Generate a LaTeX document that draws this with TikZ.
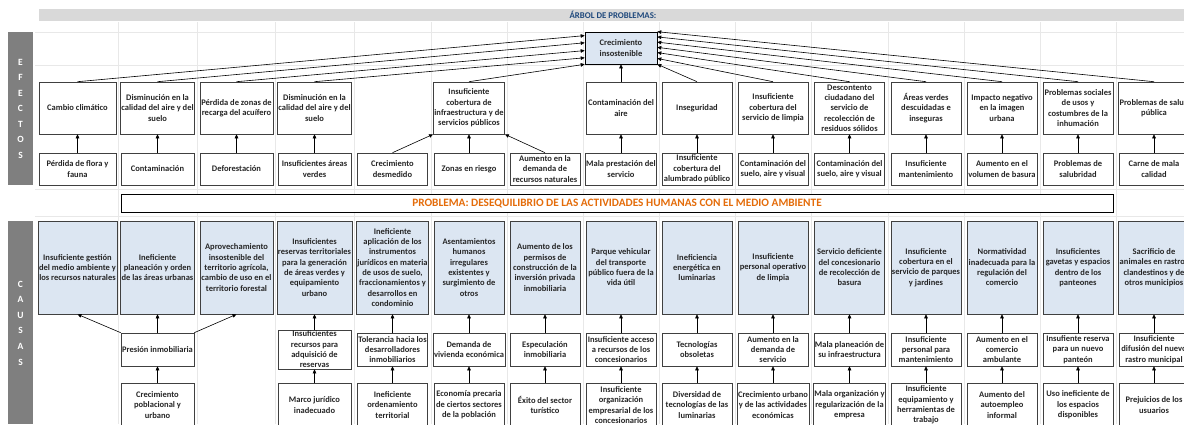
\documentclass[tikz,border=0pt]{standalone}
\usepackage{fontspec}
\setmainfont{Carlito}
\usetikzlibrary{arrows.meta,calc}

\definecolor{bandgray}{RGB}{127,127,127}
\definecolor{titlegray}{RGB}{217,217,217}
\definecolor{causeblue}{RGB}{220,230,242}
\definecolor{boxline}{RGB}{64,64,64}
\definecolor{titleblue}{RGB}{31,73,125}
\definecolor{problemorange}{RGB}{228,108,10}
\definecolor{gridgray}{RGB}{232,232,232}

\begin{document}
\begin{tikzpicture}[x=1pt,y=-1pt,
box/.style={draw=boxline,line width=0.6pt,fill=white,align=center,inner sep=1pt,minimum width=70pt,text=black!85,font=\fontsize{8.5}{10.35}\selectfont\bfseries},
efecto/.style={box,minimum height=52pt},
subefecto/.style={box,minimum height=32pt},
causa/.style={box,fill=causeblue,minimum height=93pt},
subcausa/.style={box,minimum height=33pt},
raiz/.style={box,minimum height=44pt},
letter/.style={text=white,font=\fontsize{9.5}{9.5}\selectfont\bfseries,inner sep=0pt},
arrow/.style={-{Triangle[length=4pt,width=3.6pt]},line width=0.6pt,black}]
\useasboundingbox (0,0) rectangle (1184,424);
\clip (0,0) rectangle (1184,424);
% hoja de calculo
\foreach \gx in {118.5,197,275.5,354,431,507,583,659,735,811,888,964,1040,1116} \draw[gridgray] (\gx,22)--(\gx,424);
\foreach \gy in {32,65,189,216} \draw[gridgray] (35,\gy)--(1184,\gy);
\fill[titlegray] (39,9) rectangle (1184,21);
\node[text=titleblue,font=\fontsize{8.8}{8.8}\selectfont\bfseries,inner sep=0pt] (titulo) at (613,15) {ÁRBOL DE PROBLEMAS:};
\fill[bandgray] (8,32) rectangle (33,185);
\fill[bandgray] (8,221) rectangle (33,424);
\foreach \l [count=\k] in {E,F,E,C,T,O,S} \node[letter] (le\k) at (20.5,{46.5+15.5*\k}) {\l};
\foreach \l [count=\k] in {C,A,U,S,A,S} \node[letter] (lc\k) at (20.5,{268.4+15.6*\k}) {\l};

% efectos
\node[box,fill=causeblue,draw=black,minimum width=72pt,minimum height=32pt] (ctr) at (621,48) {Crecimiento\\insostenible};
\node[efecto,minimum width=77pt] (efa0) at (77.5,108) {Cambio climático};
\node[efecto,minimum width=73pt] (efa1) at (157.5,108) {Disminución en la\\calidad del aire y del\\suelo};
\node[efecto,minimum width=73pt] (efa2) at (236.5,108) {Pérdida de zonas de\\recarga del acuífero};
\node[efecto,minimum width=73pt] (efa3) at (314.5,108) {Disminución en la\\calidad del aire y del\\suelo};
\node[efecto] (efa5) at (469,108) {Insuficiente\\cobertura de\\infraestructura y de\\servicios públicos};
\node[efecto] (efa7) at (621,108) {Contaminación del\\aire};
\node[efecto] (efa8) at (697,108) {Inseguridad};
\node[efecto] (efa9) at (773,108) {Insuficiente\\cobertura del\\servicio de limpia};
\node[efecto] (efa10) at (849.5,108) {Descontento\\ciudadano del\\servicio de\\recolección de\\residuos sólidos};
\node[efecto] (efa11) at (926,108) {Áreas verdes\\descuidadas e\\inseguras};
\node[efecto] (efa12) at (1002,108) {Impacto negativo\\en la imagen\\urbana};
\node[efecto] (efa13) at (1078,108) {Problemas sociales\\de usos y\\costumbres de la\\inhumación};
\node[efecto] (efa14) at (1154,108) {Problemas de salud\\pública};

\node[subefecto,minimum width=77pt] (efb0) at (77.5,169) {Pérdida de flora y\\fauna};
\node[subefecto,minimum width=73pt] (efb1) at (157.5,169) {Contaminación};
\node[subefecto,minimum width=73pt] (efb2) at (236.5,169) {Deforestación};
\node[subefecto,minimum width=73pt] (efb3) at (314.5,169) {Insuficientes áreas\\verdes};
\node[subefecto] (efb4) at (392.5,169) {Crecimiento\\desmedido};
\node[subefecto] (efb5) at (469,169) {Zonas en riesgo};
\node[subefecto] (efb6) at (545,169) {Aumento en la\\demanda de\\recursos naturales};
\node[subefecto] (efb7) at (621,169) {Mala prestación del\\servicio};
\node[subefecto] (efb8) at (697,169) {Insuficiente\\cobertura del\\alumbrado público};
\node[subefecto] (efb9) at (773,169) {Contaminación del\\suelo, aire y visual};
\node[subefecto] (efb10) at (849.5,169) {Contaminación del\\suelo, aire y visual};
\node[subefecto] (efb11) at (926,169) {Insuficiente\\mantenimiento};
\node[subefecto] (efb12) at (1002,169) {Aumento en el\\volumen de basura};
\node[subefecto] (efb13) at (1078,169) {Problemas de\\salubridad};
\node[subefecto] (efb14) at (1154,169) {Carne de mala\\calidad};

\node[draw=black,line width=1pt,fill=white,minimum width=992pt,minimum height=18pt,inner sep=0pt,text=problemorange,font=\fontsize{11.3}{11.3}\selectfont\bfseries] (problema) at (617,203) {PROBLEMA: DESEQUILIBRIO DE LAS ACTIVIDADES HUMANAS CON EL MEDIO AMBIENTE};

% causas
\node[causa,minimum width=77pt] (caa0) at (77.5,267.5) {Insuficiente gestión\\del medio ambiente y\\los recursos naturales};
\node[causa,minimum width=73pt] (caa1) at (157.5,267.5) {Ineficiente\\planeación y orden\\de las áreas urbanas};
\node[causa,minimum width=73pt] (caa2) at (236.5,267.5) {Aprovechamiento\\insostenible del\\territorio agrícola,\\cambio de uso en el\\territorio forestal};
\node[causa,minimum width=73pt] (caa3) at (314.5,267.5) {Insuficientes\\reservas territoriales\\para la generación\\de áreas verdes y\\equipamiento\\urbano};
\node[causa] (caa4) at (392.5,267.5) {Ineficiente\\aplicación de los\\instrumentos\\jurídicos en materia\\de usos de suelo,\\fraccionamientos y\\desarrollos en\\condominio};
\node[causa] (caa5) at (469,267.5) {Asentamientos\\humanos\\irregulares\\existentes y\\surgimiento de\\otros};
\node[causa] (caa6) at (545,267.5) {Aumento de los\\permisos de\\construcción de la\\inversión privada\\inmobiliaria};
\node[causa] (caa7) at (621,267.5) {Parque vehicular\\del transporte\\público fuera de la\\vida útil};
\node[causa] (caa8) at (697,267.5) {Ineficiencia\\energética en\\luminarias};
\node[causa] (caa9) at (773,267.5) {Insuficiente\\personal operativo\\de limpia};
\node[causa] (caa10) at (849.5,267.5) {Servicio deficiente\\del concesionario\\de recolección de\\basura};
\node[causa] (caa11) at (926,267.5) {Insuficiente\\cobertura en el\\servicio de parques\\y jardines};
\node[causa] (caa12) at (1002,267.5) {Normatividad\\inadecuada para la\\regulación del\\comercio};
\node[causa] (caa13) at (1078,267.5) {Insuficientes\\gavetas y espacios\\dentro de los\\panteones};
\node[causa] (caa14) at (1154,267.5) {Sacrificio de\\animales en rastros\\clandestinos y de\\otros municipios};

\node[subcausa,minimum width=73pt] (cab1) at (157.5,349.5) {Presión inmobiliaria};
\node[subcausa,minimum width=73pt] (cab3) at (314.5,349.5) {Insuficientes\\recursos para\\adquisició de\\reservas};
\node[subcausa] (cab4) at (392.5,349.5) {Tolerancia hacia los\\desarrolladores\\inmobiliarios};
\node[subcausa] (cab5) at (469,349.5) {Demanda de\\vivienda económica};
\node[subcausa] (cab6) at (545,349.5) {Especulación\\inmobiliaria};
\node[subcausa] (cab7) at (621,349.5) {Insuficiente acceso\\a recursos de los\\concesionarios};
\node[subcausa] (cab8) at (697,349.5) {Tecnologías\\obsoletas};
\node[subcausa] (cab9) at (773,349.5) {Aumento en la\\demanda de\\servicio};
\node[subcausa] (cab10) at (849.5,349.5) {Mala planeación de\\su infraestructura};
\node[subcausa] (cab11) at (926,349.5) {Insuficiente\\personal para\\mantenimiento};
\node[subcausa] (cab12) at (1002,349.5) {Aumento en el\\comercio\\ambulante};
\node[subcausa] (cab13) at (1078,349.5) {Insufiente reserva\\para un nuevo\\panteón};
\node[subcausa] (cab14) at (1154,349.5) {Insuficiente\\difusión del nuevo\\rastro municipal};

\node[raiz,minimum width=73pt] (cac1) at (157.5,405) {Crecimiento\\poblacional y\\urbano};
\node[raiz,minimum width=73pt] (cac3) at (314.5,405) {Marco jurídico\\inadecuado};
\node[raiz] (cac4) at (392.5,405) {Ineficiente\\ordenamiento\\territorial};
\node[raiz] (cac5) at (469,405) {Economía precaria\\de ciertos sectores\\de la población};
\node[raiz] (cac6) at (545,405) {Éxito del sector\\turístico};
\node[raiz] (cac7) at (621,405) {Insuficiente\\organización\\empresarial de los\\concesionarios};
\node[raiz] (cac8) at (697,405) {Diversidad de\\tecnologías de las\\luminarias};
\node[raiz] (cac9) at (773,405) {Crecimiento urbano\\y de las actividades\\económicas};
\node[raiz] (cac10) at (849.5,405) {Mala organización y\\regularización de la\\empresa};
\node[raiz] (cac11) at (926,405) {Insuficiente\\equipamiento y\\herramientas de\\trabajo};
\node[raiz] (cac12) at (1002,405) {Aumento del\\autoempleo\\informal};
\node[raiz] (cac13) at (1078,405) {Uso ineficiente de\\los espacios\\disponibles};
\node[raiz] (cac14) at (1154,405) {Prejuicios de los\\usuarios};

% flechas efectos
\draw[arrow] (efa0.north)--($(ctr.north west)!0.12!(ctr.south west)$);
\draw[arrow] (efa1.north)--($(ctr.north west)!0.34!(ctr.south west)$);
\draw[arrow] (efa2.north)--($(ctr.north west)!0.58!(ctr.south west)$);
\draw[arrow] (efa3.north)--($(ctr.north west)!0.8!(ctr.south west)$);
\draw[arrow] (efa5.north)--(ctr.south west);
\draw[arrow] (efa7)--(ctr);
\draw[arrow] (efa8.north)--(ctr.south east);
\draw[arrow] (efa9.north)--($(ctr.north east)!0.82!(ctr.south east)$);
\draw[arrow] (efa10.north)--($(ctr.north east)!0.64!(ctr.south east)$);
\draw[arrow] (efa11.north)--($(ctr.north east)!0.48!(ctr.south east)$);
\draw[arrow] (efa12.north)--($(ctr.north east)!0.32!(ctr.south east)$);
\draw[arrow] (efa13.north)--($(ctr.north east)!0.16!(ctr.south east)$);
\draw[arrow] (efa14.north)--(ctr.north east);
\draw[arrow] (efb0)--(efa0);\draw[arrow] (efb1)--(efa1);\draw[arrow] (efb2)--(efa2);\draw[arrow] (efb3)--(efa3);
\draw[arrow] (efb4.north)--(efa5.south west);\draw[arrow] (efb5)--(efa5);\draw[arrow] (efb6.north)--(efa5.south east);
\draw[arrow] (efb7)--(efa7);\draw[arrow] (efb8)--(efa8);\draw[arrow] (efb9)--(efa9);\draw[arrow] (efb10)--(efa10);
\draw[arrow] (efb11)--(efa11);\draw[arrow] (efb12)--(efa12);\draw[arrow] (efb13)--(efa13);\draw[arrow] (efb14)--(efa14);

% flechas causas
\draw[arrow] (cab1.north west)--(caa0.south);\draw[arrow] (cab1)--(caa1);\draw[arrow] (cab1.north east)--(caa2.south);
\draw[arrow] (cac1)--(cab1);
\foreach \c in {3,...,14} {\draw[arrow] (cab\c)--(caa\c);\draw[arrow] (cac\c)--(cab\c);}
\end{tikzpicture}
\end{document}
